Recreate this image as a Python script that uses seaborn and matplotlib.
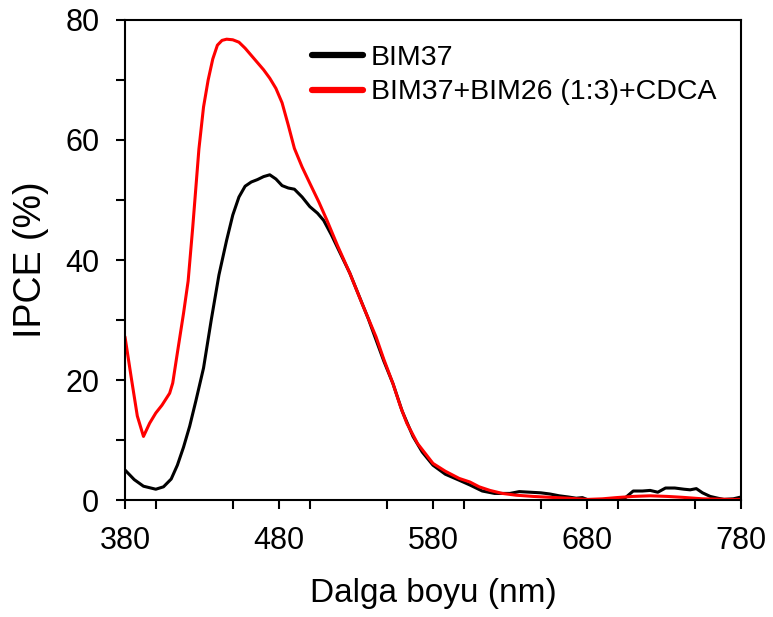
import matplotlib
matplotlib.use("Agg")
import matplotlib.pyplot as plt
import seaborn as sns
import pandas as pd
from matplotlib.ticker import MultipleLocator, FixedLocator

# ---- data ----
bim37_x = [380, 386, 392, 400, 405, 410, 414, 418, 422, 426, 431, 436, 441, 446, 450,
           454, 458, 462, 466, 470, 474, 478, 482, 486, 490, 495, 500, 505, 509, 514,
           520, 526, 532, 538, 543, 548, 554, 560, 567, 573, 580, 588, 597, 604, 612,
           620, 630, 636, 643, 650, 656, 662, 668, 673, 677, 681, 690, 700, 705, 710,
           716, 721, 726, 731, 737, 743, 747, 751, 755, 760, 765, 769, 775, 780]
bim37_y = [5.0, 3.4, 2.3, 1.8, 2.2, 3.5, 5.8, 8.8, 12.3, 16.5, 22.0, 30.0, 37.5, 43.3, 47.5,
           50.5, 52.3, 53.0, 53.4, 53.9, 54.2, 53.5, 52.4, 52.0, 51.8, 50.5, 48.9, 47.8, 46.6, 44.2,
           41.0, 37.8, 34.0, 30.2, 26.7, 23.2, 19.4, 14.8, 10.6, 8.0, 5.8, 4.3, 3.3, 2.5, 1.5,
           1.1, 1.1, 1.4, 1.3, 1.2, 1.0, 0.7, 0.5, 0.3, 0.4, 0.0, 0.0, 0.1, 0.4, 1.5,
           1.5, 1.6, 1.3, 2.0, 2.0, 1.8, 1.7, 1.9, 1.2, 0.6, 0.3, 0.1, 0.2, 0.5]

mix_x = [380, 384, 388, 392, 396, 400, 404, 409, 411, 414, 418, 421, 424, 428, 431,
         434, 437, 440, 443, 446, 450, 454, 458, 462, 466, 470, 474, 478, 482, 486,
         490, 495, 500, 506, 511, 518, 526, 534, 543, 548, 554, 559, 563, 570, 580,
         588, 597, 604, 610, 617, 625, 634, 645, 656, 668, 680, 690, 699, 710, 721,
         732, 742, 755, 765, 775, 780]
mix_y = [27.2, 20.5, 14.0, 10.6, 12.8, 14.5, 15.8, 17.8, 19.5, 24.5, 31.1, 36.5, 45.5, 58.5, 65.5,
         70.0, 73.5, 75.8, 76.6, 76.8, 76.7, 76.3, 75.3, 74.1, 72.9, 71.7, 70.3, 68.6, 66.2, 62.5,
         58.6, 55.5, 52.8, 49.6, 46.7, 42.4, 37.8, 32.7, 27.2, 23.5, 19.4, 15.5, 12.8, 9.4, 6.1,
         4.8, 3.6, 3.0, 2.2, 1.6, 1.1, 0.8, 0.6, 0.45, 0.3, 0.1, 0.2, 0.4, 0.6, 0.7,
         0.6, 0.45, 0.2, 0.15, 0.1, 0.1]

series_names = ["BIM37", "BIM37+BIM26 (1:3)+CDCA"]
series_colors = ["#000000", "#ff0000"]
x_ticks = [380, 480, 580, 680, 780]
y_ticks = [0, 20, 40, 60, 80]

df = pd.concat([
    pd.DataFrame({"wl": bim37_x, "ipce": bim37_y, "s": series_names[0]}),
    pd.DataFrame({"wl": mix_x, "ipce": mix_y, "s": series_names[1]}),
], ignore_index=True)

sns.set_style("ticks")
plt.rcParams["font.family"] = ["Liberation Sans", "DejaVu Sans"]
plt.rcParams["text.color"] = "black"
plt.rcParams["axes.labelcolor"] = "black"

fig = plt.figure(figsize=(7.73, 6.17), dpi=100)
ax = fig.add_axes([0.1617, 0.1896, 0.7969, 0.778])

sns.lineplot(data=df, x="wl", y="ipce", hue="s", hue_order=series_names,
             palette=dict(zip(series_names, series_colors)), estimator=None,
             linewidth=2.2, ax=ax)

ax.set_xlim(380, 780)
ax.set_ylim(0, 80)
ax.xaxis.set_major_locator(FixedLocator(x_ticks))
ax.xaxis.set_minor_locator(MultipleLocator(50))
ax.yaxis.set_major_locator(FixedLocator(y_ticks))
ax.yaxis.set_minor_locator(MultipleLocator(10))
ax.tick_params(which="both", direction="out", length=6.5, width=1.5, colors="black",
               labelsize=22)
ax.tick_params(axis="y", pad=12)
ax.tick_params(axis="x", pad=12)
for sp in ax.spines.values():
    sp.set_visible(True)
    sp.set_linewidth(1.5)
    sp.set_color("black")

ax.set_xlabel("Dalga boyu (nm)", fontsize=24, labelpad=16, color="black")
ax.set_ylabel("IPCE (%)", fontsize=27, labelpad=12, color="black")

handles, labels = ax.get_legend_handles_labels()
leg = ax.legend(handles, labels, loc="upper left", bbox_to_anchor=(0.303, 0.948),
                frameon=False, fontsize=20.5, handlelength=1.8, handletextpad=0.28,
                labelspacing=0.3, borderaxespad=0, borderpad=0)
for h in leg.get_lines():
    h.set_linewidth(4.5)

fig.savefig("out.png", dpi=100)
